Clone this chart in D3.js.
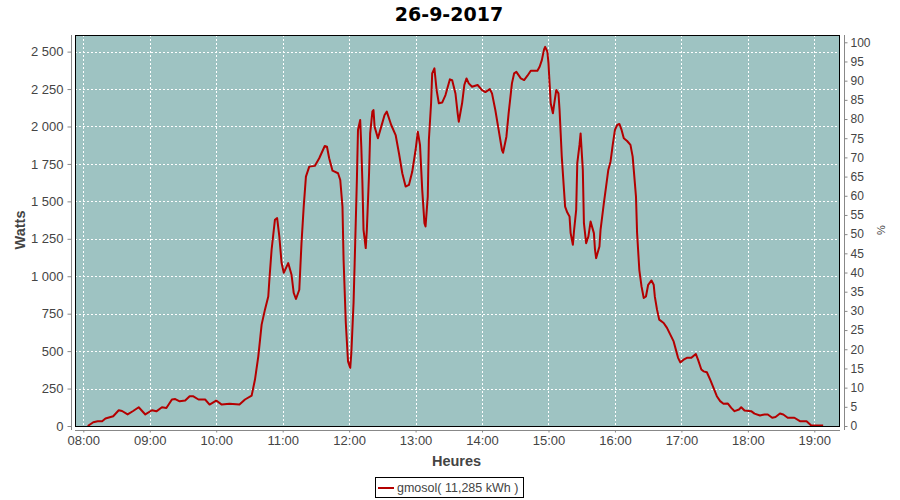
<!DOCTYPE html>
<html>
<head>
<meta charset="utf-8">
<script src="https://cdn.jsdelivr.net/npm/d3@7/dist/d3.min.js"></script>
<style>
  html, body { margin: 0; padding: 0; background: #ffffff; }
  svg { display: block; }
</style>
</head>
<body>
<svg id="chart" width="900" height="500"></svg>
<script>
// ---------------- DATA ----------------
const chartTitle = "26-9-2017";
const seriesName = "gmosol( 11,285 kWh )";
const times = [
  "08:04","08:09","08:13","08:17","08:20","08:27","08:32","08:35","08:40","08:45",
  "08:50","08:56","09:02","09:06","09:11","09:15","09:20","09:23","09:27","09:32",
  "09:36","09:39","09:44","09:50","09:54","10:00","10:05","10:12","10:21","10:26",
  "10:32","10:35","10:38","10:41","10:44","10:47","10:48","10:50","10:53","10:55",
  "10:57","10:59","11:01","11:05","11:08","11:10","11:12","11:15","11:17","11:19",
  "11:21","11:24","11:29","11:33","11:38","11:40","11:42","11:45","11:50","11:52",
  "11:54","11:55","11:57","11:59","12:01","12:02","12:04","12:05","12:07","12:08",
  "12:10","12:11","12:12","12:13","12:15","12:16","12:18","12:19","12:21","12:22",
  "12:23","12:26","12:29","12:32","12:34","12:38","12:42","12:45","12:48","12:51",
  "12:54","12:57","13:00","13:02","13:04","13:06","13:08","13:09","13:11","13:12",
  "13:14","13:15","13:17","13:19","13:21","13:24","13:27","13:31","13:33","13:36",
  "13:38","13:39","13:42","13:44","13:46","13:48","13:51","13:56","14:00","14:03",
  "14:07","14:09","14:12","14:15","14:18","14:19","14:22","14:24","14:27","14:29",
  "14:31","14:35","14:38","14:41","14:44","14:50","14:52","14:54","14:56","14:57",
  "14:59","15:00","15:01","15:02","15:04","15:05","15:07","15:09","15:10","15:11",
  "15:12","15:14","15:15","15:17","15:19","15:20","15:22","15:23","15:25","15:26",
  "15:28","15:29","15:31","15:32","15:34","15:36","15:38","15:41","15:42","15:43",
  "15:46","15:47","15:50","15:52","15:54","15:56","15:58","16:00","16:02","16:04",
  "16:06","16:08","16:11","16:14","16:16","16:17","16:19","16:20","16:22","16:24",
  "16:26","16:28","16:30","16:33","16:35","16:36","16:38","16:40","16:44","16:47",
  "16:50","16:53","16:55","16:57","16:59","17:02","17:05","17:09","17:13","17:15",
  "17:18","17:20","17:23","17:26","17:29","17:32","17:35","17:38","17:42","17:45",
  "17:48","17:52","17:54","17:57","18:03","18:06","18:11","18:15","18:18","18:22",
  "18:25","18:29","18:32","18:36","18:42","18:47","18:53","18:57","19:08"
];
const watts = [
  0,25,32,32,50,65,105,100,77,100,
  125,77,105,98,125,120,177,180,165,170,
  199,199,177,177,143,170,143,148,143,177,
  203,310,465,677,777,865,977,1177,1377,1388,
  1265,1090,1023,1088,1010,888,848,910,1221,1465,
  1665,1732,1737,1788,1870,1865,1788,1705,1688,1643,
  1465,1110,690,432,388,488,821,1088,1643,1977,
  2043,1865,1621,1310,1188,1310,1688,1954,2099,2110,
  1999,1921,1999,2077,2099,2010,1943,1821,1688,1599,
  1610,1699,1843,1965,1877,1577,1355,1332,1532,1910,
  2155,2355,2388,2243,2155,2160,2210,2315,2310,2221,
  2088,2032,2155,2277,2321,2288,2265,2277,2243,2230,
  2250,2221,2110,1977,1843,1825,1932,2088,2288,2355,
  2365,2321,2310,2339,2372,2372,2399,2443,2515,2532,
  2499,2421,2288,2155,2088,2143,2243,2221,2110,1954,
  1799,1577,1465,1425,1399,1288,1210,1299,1443,1755,
  1877,1954,1710,1355,1221,1265,1365,1288,1177,1121,
  1199,1310,1488,1599,1710,1765,1877,1977,2010,2017,
  1977,1921,1903,1877,1799,1710,1532,1288,1043,932,
  855,865,943,972,943,865,777,710,688,655,
  610,565,510,455,425,443,455,455,481,443,
  377,365,359,310,255,199,166,148,150,121,
  99,110,125,103,99,83,70,77,77,55,
  60,83,77,55,55,32,32,5,3
];
const wattTicks = [0,250,500,750,1000,1250,1500,1750,2000,2250,2500];
const pctTicks = [0,5,10,15,20,25,30,35,40,45,50,55,60,65,70,75,80,85,90,95,100];
const hourTicks = ["08:00","09:00","10:00","11:00","12:00","13:00","14:00","15:00","16:00","17:00","18:00","19:00"];
const timeDomain = ["07:52:30","19:23:12"];
const wattMax = 2611;
const pctMax = 101.9;

// ---------------- LAYOUT ----------------
const svg = d3.select("#chart");
const plot = { left: 75, top: 35, right: 840, bottom: 426 };
const parseHM = d3.timeParse("%H:%M");
const parseHMS = d3.timeParse("%H:%M:%S");
const data = times.map((t, i) => ({ t: parseHM(t), v: watts[i] }));

const x = d3.scaleTime()
  .domain(timeDomain.map(parseHMS))
  .range([plot.left, plot.right]);
const y = d3.scaleLinear().domain([0, wattMax]).range([plot.bottom, plot.top]);
const y2 = d3.scaleLinear().domain([0, pctMax]).range([plot.bottom, plot.top]);

const locale = d3.formatLocale({ decimal: ",", thousands: " ", grouping: [3], currency: ["", ""] });
const fmtW = locale.format(",d");
const fmtT = d3.timeFormat("%H:%M");
const hourDates = hourTicks.map(parseHM);

const tickFont = "'Liberation Sans', Arial, sans-serif";
const textCol = "#444444";
const axisCol = "#888888";

// plot background
svg.append("rect")
  .attr("x", plot.left).attr("y", plot.top)
  .attr("width", plot.right - plot.left).attr("height", plot.bottom - plot.top)
  .attr("fill", "#9ec3c2");

// gridlines
const grid = svg.append("g").attr("stroke", "#ffffff").attr("stroke-width", 1)
  .attr("stroke-dasharray", "2,2").attr("shape-rendering", "crispEdges");
grid.selectAll("line.h").data(wattTicks.filter(d => d > 0)).enter().append("line")
  .attr("x1", plot.left).attr("x2", plot.right)
  .attr("y1", d => Math.round(y(d)) + 0.5).attr("y2", d => Math.round(y(d)) + 0.5);
grid.selectAll("line.v").data(hourDates).enter().append("line")
  .attr("y1", plot.top).attr("y2", plot.bottom)
  .attr("x1", d => Math.round(x(d)) + 0.5).attr("x2", d => Math.round(x(d)) + 0.5);

// clip
svg.append("clipPath").attr("id", "clip").append("rect")
  .attr("x", plot.left).attr("y", plot.top)
  .attr("width", plot.right - plot.left).attr("height", plot.bottom - plot.top);

// line
const line = d3.line().x(d => x(d.t)).y(d => y(d.v));
svg.append("path").datum(data)
  .attr("clip-path", "url(#clip)")
  .attr("fill", "none").attr("stroke", "#b40000").attr("stroke-width", 2)
  .attr("stroke-linejoin", "round")
  .attr("d", line);

// plot border
svg.append("rect")
  .attr("x", plot.left + 0.5).attr("y", plot.top + 0.5)
  .attr("width", plot.right - plot.left - 1).attr("height", plot.bottom - plot.top)
  .attr("fill", "none").attr("stroke", "#000000").attr("stroke-width", 1);

function styleAxis(g) {
  g.select(".domain").attr("stroke", axisCol);
  g.selectAll(".tick line").attr("stroke", axisCol);
  g.selectAll(".tick text").attr("fill", textCol)
    .style("font-family", tickFont).style("font-size", "13px");
}

// left axis
svg.append("g").attr("transform", "translate(71.5,0)")
  .call(d3.axisLeft(y).tickValues(wattTicks).tickFormat(fmtW).tickSize(4).tickSizeOuter(0).tickPadding(4))
  .call(g => g.select(".domain").attr("d", `M0,${plot.top}V${plot.bottom + 4}`))
  .call(styleAxis);

// right axis
svg.append("g").attr("transform", "translate(844.5,0)")
  .call(d3.axisRight(y2).tickValues(pctTicks).tickFormat(d3.format("d")).tickSize(3).tickSizeOuter(0).tickPadding(3))
  .call(g => g.select(".domain").attr("d", `M0,${plot.top}V${plot.bottom + 4}`))
  .call(styleAxis)
  .call(g => g.selectAll(".tick text").style("font-size", "12px"));

// bottom axis
svg.append("g").attr("transform", "translate(0,430.5)")
  .call(d3.axisBottom(x).tickValues(hourDates).tickFormat(fmtT).tickSize(2).tickSizeOuter(0).tickPadding(3))
  .call(g => g.select(".domain").attr("d", `M${plot.left},0H${plot.right}`))
  .call(styleAxis);

// title
svg.append("text")
  .attr("x", 449).attr("y", 21)
  .attr("text-anchor", "middle")
  .style("font-family", "'DejaVu Sans', sans-serif")
  .style("font-weight", "bold").style("font-size", "19px")
  .attr("fill", "#000000")
  .text(chartTitle);

// axis labels
svg.append("text")
  .attr("transform", "translate(25,230) rotate(-90)")
  .attr("text-anchor", "middle")
  .style("font-family", tickFont).style("font-weight", "bold").style("font-size", "14.5px")
  .attr("fill", textCol).text("Watts");

svg.append("text")
  .attr("transform", "translate(885,230) rotate(-90)")
  .attr("text-anchor", "middle")
  .style("font-family", tickFont).style("font-size", "11px")
  .attr("fill", textCol).text("%");

svg.append("text")
  .attr("x", 456.5).attr("y", 465.5)
  .attr("text-anchor", "middle")
  .style("font-family", tickFont).style("font-weight", "bold").style("font-size", "14.5px")
  .attr("fill", textCol).text("Heures");

// legend
const lg = svg.append("g");
lg.append("rect").attr("x", 375.5).attr("y", 477.5).attr("width", 148).attr("height", 20)
  .attr("fill", "#ffffff").attr("stroke", "#000000").attr("stroke-width", 1);
lg.append("line").attr("x1", 378).attr("x2", 394).attr("y1", 488).attr("y2", 488)
  .attr("stroke", "#b40000").attr("stroke-width", 2);
lg.append("text").attr("x", 397).attr("y", 492)
  .style("font-family", tickFont).style("font-size", "12.5px")
  .attr("fill", textCol).text(seriesName);
</script>
</body>
</html>
